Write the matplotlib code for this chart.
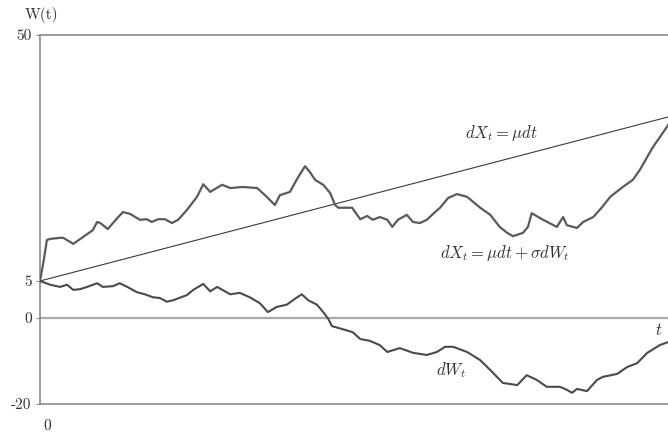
import numpy as np
import matplotlib.pyplot as plt
from matplotlib.scale import FuncScale

plt.rcParams['font.family'] = ['cmr10', 'DejaVu Serif']
plt.rcParams['mathtext.fontset'] = 'cm'
plt.rcParams['axes.formatter.use_mathtext'] = True

# time axis (0 .. 100) and the two sample paths
t_x = [0, 0.6, 1.1, 1.6, 3.2, 3.7, 5.3, 6.8, 8.4, 9.1, 9.6, 10.8, 12.3, 13.2, 14.3,
       15.9, 17.0, 17.8, 18.8, 19.9, 21.0, 22.0, 23.4, 25.0, 26.0, 27.1, 29.0, 30.3,
       32.3, 34.6, 36.1, 37.4, 38.2, 39.8, 41.1, 42.2, 43.0, 43.8, 45.1, 46.2, 47.0,
       47.5, 48.6, 49.7, 50.5, 51.0, 52.1, 53.0, 54.1, 55.3, 56.1, 57.0, 58.4, 59.4,
       60.5, 61.6, 62.9, 63.7, 65.0, 66.4, 68.0, 70.1, 71.7, 73.2, 74.4, 75.3, 76.9,
       77.7, 78.3, 80.1, 82.3, 83.3, 83.9, 85.5, 86.5, 88.1, 89.5, 90.8, 92.8, 94.4,
       95.5, 96.7, 97.6, 98.7, 100]
x_path = [5, 8.8, 12.5, 12.7, 12.9, 12.9, 11.8, 13.0, 14.3, 15.8, 15.6, 14.5, 16.5, 17.6, 17.3,
          16.2, 16.3, 15.8, 16.3, 16.3, 15.6, 16.2, 18.0, 20.4, 22.7, 21.3, 22.6, 22.0,
          22.2, 22.0, 20.4, 18.9, 20.7, 21.3, 24.0, 26.0, 24.9, 23.5, 22.6, 21.1, 18.9,
          18.4, 18.4, 18.4, 17.1, 16.3, 16.9, 16.2, 16.7, 16.2, 14.9, 16.2, 17.1, 15.8,
          15.6, 16.2, 17.6, 18.4, 20.2, 20.9, 20.4, 18.4, 17.1, 14.9, 13.8, 13.2, 13.8,
          14.9, 17.4, 16.2, 14.9, 16.7, 15.2, 14.7, 15.8, 16.7, 18.5, 20.4, 22.2, 23.5,
          25.3, 27.7, 29.5, 31.3, 33.5]

t_w = [0, 1.6, 3.2, 4.3, 5.3, 6.4, 7.5, 9.1, 10.0, 11.6, 12.7, 13.9, 15.4, 16.7, 18.0,
       19.1, 20.2, 21.2, 23.4, 24.4, 26.0, 27.1, 28.2, 30.3, 31.8, 33.4, 35.0, 36.3,
       37.7, 39.3, 40.6, 41.7, 42.7, 44.1, 45.1, 45.9, 46.5, 48.2, 49.8, 51.0, 52.5,
       54.1, 55.3, 57.3, 59.4, 61.6, 63.2, 64.5, 65.8, 68.0, 70.1, 71.7, 73.7, 76.0,
       77.5, 79.1, 80.7, 82.8, 83.9, 84.7, 85.5, 87.1, 88.7, 89.6, 91.9, 93.5, 95.1,
       96.7, 98.7, 100]
w_path = [5, 4.5, 4.2, 4.5, 3.8, 3.9, 4.2, 4.7, 4.2, 4.3, 4.7, 4.2, 3.5, 3.2, 2.8,
          2.7, 2.2, 2.4, 3.1, 3.8, 4.6, 3.6, 4.2, 3.2, 3.4, 2.8, 2.0, 0.8,
          1.5, 1.8, 2.6, 3.2, 2.4, 1.8, 0.8, -0.2, -1.9, -2.6, -3.3, -4.9, -5.3,
          -6.3, -7.9, -7.0, -8.1, -8.6, -7.9, -6.7, -6.7, -7.9, -9.8, -12.1, -15.1, -15.6,
          -13.3, -14.4, -16.0, -16.0, -16.7, -17.4, -16.5, -17.0, -14.4, -13.7, -13.0, -11.4, -10.5,
          -8.1, -6.3, -5.6]

drift_t = [0, 100]
drift_x = [5, 35]

y_ticks = [-20, 0, 5, 50]
y_labels = ['-20', '0', '5', '50']

# the vertical axis is drawn schematically: each band between ticks has its own spacing
band_vals = [-20, 0, 5, 50]
band_pos = [0, 86, 123, 369]


def fwd(y):
    return np.interp(y, band_vals, band_pos)


def inv(p):
    return np.interp(p, band_pos, band_vals)


fig = plt.figure(figsize=(6.68, 4.33), dpi=100)
ax = fig.add_axes([40 / 668, 29 / 433, 628 / 668, 369 / 433])
ax.set_yscale(FuncScale(ax.yaxis, (fwd, inv)))
ax.set_xlim(0, 100)
ax.set_ylim(-20, 50)

ax.axhline(0, color='#a8a8a8', lw=1.6, zorder=1)
ax.plot(drift_t, drift_x, color='#3a3a3a', lw=0.8, zorder=2)
ax.plot(t_x, x_path, color='#5a5a5a', lw=1.6, zorder=3, solid_joinstyle='round')
ax.plot(t_w, w_path, color='#4a4a4a', lw=1.5, zorder=3, solid_joinstyle='round')

for side in ['left', 'top', 'bottom']:
    ax.spines[side].set_color('#8a8a8a')
    ax.spines[side].set_linewidth(1.2)
ax.spines['right'].set_visible(False)

ax.set_yticks(y_ticks)
ax.set_yticklabels(y_labels)
ax.yaxis.set_minor_locator(plt.NullLocator())
ax.tick_params(axis='y', length=3, color='#8a8a8a', labelsize=11, pad=3, labelcolor='#333333')
ax.set_xticks([])

ax.annotate('0', xy=(0, -20), xytext=(7, -22), textcoords='offset pixels',
            ha='center', va='center', fontsize=11, color='#333333', annotation_clip=False)
ax.annotate('W(t)', xy=(0, 50), xytext=(2, 20), textcoords='offset pixels',
            ha='center', va='center', fontsize=11, color='#333333', annotation_clip=False)

ax.text(73.4, 32.1, r'$dX_t = \mu dt$', fontsize=12, ha='center', va='center', color='#333333')
ax.text(74, 10.2, r'$dX_t = \mu dt + \sigma dW_t$', fontsize=12, ha='center', va='center',
        color='#333333')
ax.text(65.5, -12.1, r'$dW_t$', fontsize=12, ha='center', va='center', color='#333333')
ax.text(98.6, -2.8, r'$t$', fontsize=12, ha='center', va='center', color='#333333')

fig.savefig('out.png', dpi=100)
